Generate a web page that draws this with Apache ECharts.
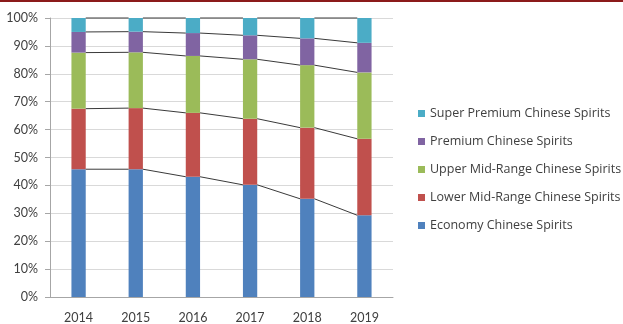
<!DOCTYPE html>
<html>
<head>
<meta charset="utf-8">
<script src="https://cdn.jsdelivr.net/npm/echarts@6/dist/echarts.min.js"></script>
<style>
  html, body { margin: 0; padding: 0; background: #fff; }
  #chart { width: 623px; height: 324px; }
</style>
</head>
<body>
<div id="chart"></div>
<script>
// Chinese spirits market share by price segment (% of total)
const years = ['2014', '2015', '2016', '2017', '2018', '2019'];
const economy   = [45.8, 45.8, 43.1, 40.2, 35.2, 29.3];
const lowerMid  = [21.7, 21.9, 22.9, 23.7, 25.5, 27.4];
const upperMid  = [20.1, 20.0, 20.4, 21.3, 22.4, 23.8];
const premium   = [7.4, 7.4, 8.2, 8.6, 9.6, 10.6];
const superPrem = [5.0, 4.9, 5.4, 6.2, 7.3, 8.9];
const yTicks = [0, 10, 20, 30, 40, 50, 60, 70, 80, 90, 100];

const layers = [
  { name: 'Economy Chinese Spirits', data: economy, color: '#4F81BD' },
  { name: 'Lower Mid-Range Chinese Spirits', data: lowerMid, color: '#C0504D' },
  { name: 'Upper Mid-Range Chinese Spirits', data: upperMid, color: '#9BBB59' },
  { name: 'Premium Chinese Spirits', data: premium, color: '#8064A2' },
  { name: 'Super Premium Chinese Spirits', data: superPrem, color: '#4BACC6' }
];

const BAR_FRAC = 0.25;
const font = 'Lato, "Open Sans", sans-serif';
const legendFont = '"Open Sans", Lato, sans-serif';

// running totals: top edge of each stacked layer
const tops = [];
let running = years.map(() => 0);
layers.forEach(l => {
  running = running.map((r, i) => r + l.data[i]);
  tops.push(running.slice());
});

// series lines joining the top of each layer between neighbouring bars
const connectorData = [];
tops.forEach(t => {
  for (let i = 0; i < years.length - 1; i++) {
    connectorData.push([i, t[i], t[i + 1]]);
  }
});

const barSeries = layers.map(l => ({
  name: l.name,
  type: 'bar',
  stack: 'share',
  barWidth: (BAR_FRAC * 100) + '%',
  itemStyle: { color: l.color },
  data: l.data,
  silent: true
}));

const connectorSeries = {
  type: 'custom',
  silent: true,
  z: 5,
  data: connectorData,
  renderItem: function (params, api) {
    const i = api.value(0);
    const a = api.coord([i, api.value(1)]);
    const b = api.coord([i + 1, api.value(2)]);
    const half = api.size([1, 0])[0] * BAR_FRAC / 2;
    return {
      type: 'line',
      shape: { x1: a[0] + half, y1: a[1], x2: b[0] - half, y2: b[1] },
      style: { stroke: '#3a3a3a', lineWidth: 1 }
    };
  }
};

const chart = echarts.init(document.getElementById('chart'), null, { renderer: 'canvas' });
chart.setOption({
  animation: false,
  backgroundColor: '#fff',
  textStyle: { fontFamily: font },
  graphic: [{
    type: 'rect',
    shape: { x: 0, y: 0, width: 623, height: 2 },
    style: { fill: '#8B1A1A' }
  }],
  grid: { left: 50, right: 230, top: 18, bottom: 26 },
  legend: {
    orient: 'vertical',
    left: 413,
    top: 102,
    icon: 'rect',
    itemWidth: 7,
    itemHeight: 7,
    itemGap: 15,
    textStyle: { fontFamily: legendFont, fontSize: 12.5, color: '#404040' },
    data: layers.map(l => l.name).reverse()
  },
  xAxis: {
    type: 'category',
    data: years,
    axisLine: { lineStyle: { color: '#A6A6A6' } },
    axisTick: { show: false },
    axisLabel: { color: '#404040', fontSize: 12.5, fontFamily: font, margin: 14 }
  },
  yAxis: {
    type: 'value',
    min: yTicks[0],
    max: yTicks[yTicks.length - 1],
    interval: 10,
    axisLine: { show: true, lineStyle: { color: '#A6A6A6' } },
    axisTick: { show: true, length: 5, lineStyle: { color: '#A6A6A6' } },
    splitLine: { lineStyle: { color: '#D9D9D9' } },
    axisLabel: { color: '#404040', fontSize: 12.5, fontFamily: font, margin: 12, formatter: '{value}%' }
  },
  series: barSeries.concat([connectorSeries])
});
</script>
</body>
</html>
